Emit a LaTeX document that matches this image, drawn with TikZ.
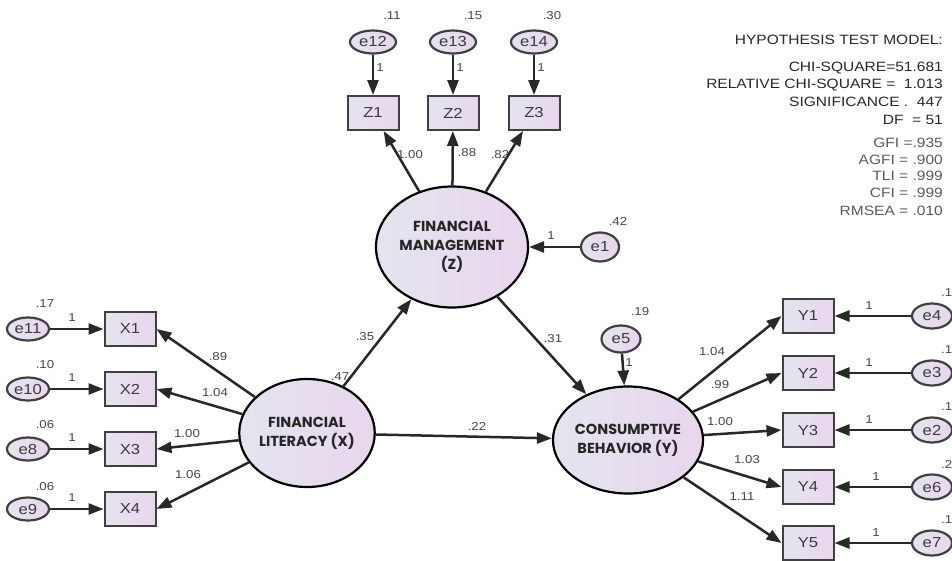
\documentclass[tikz,border=0pt]{standalone}
\usepackage{fontspec}
\setmainfont{Liberation Sans}[FakeStretch=1.15]
\newfontfamily\popp{Poppins}
\usetikzlibrary{arrows.meta,shapes.geometric}
\definecolor{fillL}{RGB}{228,228,238}
\definecolor{fillR}{RGB}{233,214,238}
\definecolor{lineC}{RGB}{40,40,40}
\definecolor{numC}{RGB}{70,70,70}
\definecolor{txtC}{RGB}{60,60,60}
\definecolor{fitA}{RGB}{40,40,40}
\definecolor{fitB}{RGB}{90,90,90}
\tikzset{
  lat/.style={ellipse, draw=black, line width=2.2pt, left color=fillL, right color=fillR,
    inner sep=0pt, align=center, text=black!85,
    font=\popp\bfseries\fontsize{14.5}{19}\selectfont},
  obs/.style={rectangle, draw=black!75, line width=2pt, left color=fillL, right color=fillR,
    minimum width=51pt, minimum height=34pt, inner sep=0pt, text=txtC,
    font=\fontsize{14.5}{15}\selectfont},
  err/.style={ellipse, draw=black!75, line width=2.2pt, left color=fillL, right color=fillR,
    minimum width=42pt, minimum height=23pt, inner sep=0pt, text=txtC,
    font=\fontsize{14.5}{15}\selectfont},
  arr/.style={draw=lineC, line width=2.5pt, -{Triangle[length=15pt,width=11pt]}},
  num/.style={text=numC, font=\fontsize{11.5}{12}\selectfont, inner sep=0pt},
  fit/.style={anchor=east, inner sep=0pt, font=\fontsize{13.5}{15}\selectfont},
}
\begin{document}
\begin{tikzpicture}[x=1pt,y=-1pt]
\useasboundingbox (0,0) rectangle (952,560);
\fill[white] (0,0) rectangle (952,560);

% latent variables
\node[lat, minimum width=152pt, minimum height=121pt] (FM) at (452,247) {FINANCIAL\\MANAGEMENT\\(Z)};
\node[lat, minimum width=134pt, minimum height=108pt] (FL) at (307,433) {FINANCIAL\\LITERACY (X)};
\node[lat, minimum width=144pt, minimum height=107pt] (CB) at (628,440) {CONSUMPTIVE\\BEHAVIOR (Y)};

% Z indicators
\node[obs] (Z1) at (373,113) {Z1};
\node[obs] (Z2) at (453,113) {Z2};
\node[obs] (Z3) at (534,113) {Z3};
\node[err, minimum width=46pt] (e12) at (373,42) {e12};
\node[err, minimum width=46pt] (e13) at (453,42) {e13};
\node[err, minimum width=46pt] (e14) at (534,42) {e14};
\node[err, minimum width=38pt, minimum height=29pt] (e1) at (600,247) {e1};
\node[err, minimum width=39pt, minimum height=27pt] (e5) at (621,339) {e5};

% X indicators
\foreach \n/\e/\y in {X1/e11/329, X2/e10/389, X3/e8/449, X4/e9/509}{
  \node[obs] (\n) at (130,\y) {\n};
  \node[err] (\e) at (28,\y) {\e};
  \draw[arr] (\e) -- (\n);
  \node[num] at (72,\y-11) {1};
}
% Y indicators
\foreach \n/\e/\y in {Y1/e4/316, Y2/e3/373, Y3/e2/430, Y4/e6/487, Y5/e7/543}{
  \node[obs] (\n) at (808,\y) {\n};
  \node[err, minimum width=40pt, minimum height=25pt] (\e) at (932,\y) {\e};
  \draw[arr] (\e) -- (\n);
}
\node[num] at (869,306) {1};
\node[num] at (869,363) {1};
\node[num] at (869,420) {1};
\node[num] at (876,477) {1};
\node[num] at (876,533) {1};

% error arrows
\draw[arr] (e12) -- (Z1);
\draw[arr] (e13) -- (Z2);
\draw[arr] (e14) -- (Z3);
\draw[arr] (e1) -- (FM);
\draw[arr] (e5) -- (CB);
\node[num] at (380,68) {1};
\node[num] at (460,68) {1};
\node[num] at (541,68) {1};
\node[num] at (551,236) {1};
\node[num] at (629,363) {1};

% loadings
\draw[arr] (FM) -- (Z1);
\draw[arr] (FM) -- (Z2);
\draw[arr] (FM) -- (Z3);
\draw[arr] (FL) -- (X1.east);
\draw[arr] (FL) -- (X2.east);
\draw[arr] (FL) -- (X3.east);
\draw[arr] (FL) -- (X4.east);
\draw[arr] (CB) -- (Y1.west);
\draw[arr] (CB) -- (Y2.west);
\draw[arr] (CB) -- (Y3.west);
\draw[arr] (CB) -- (Y4.west);
\draw[arr] (CB) -- (Y5.west);
% structural paths
\draw[arr] (FL) -- (FM);
\draw[arr] (FM) -- (CB);
\draw[arr] (FL) -- (CB);

% coefficient labels
\node[num] at (410,155) {1.00};
\node[num] at (467,153) {.88};
\node[num] at (500,155) {.82};
\node[num] at (218,357) {.89};
\node[num] at (215,393) {1.04};
\node[num] at (187,434) {1.00};
\node[num] at (188,475) {1.06};
\node[num] at (712,352) {1.04};
\node[num] at (720,385) {.99};
\node[num] at (720,422) {1.00};
\node[num] at (747,460) {1.03};
\node[num] at (742,497) {1.11};
\node[num] at (365,337) {.35};
\node[num] at (340,377) {.47};
\node[num] at (477,426) {.22};
\node[num] at (553,339) {.31};

% variances
\node[num] at (392,16) {.11};
\node[num] at (473,16) {.15};
\node[num] at (552,16) {.30};
\node[num] at (618,221) {.42};
\node[num] at (640,312) {.19};
\node[num] at (45,304) {.17};
\node[num] at (45,365) {.10};
\node[num] at (45,425) {.06};
\node[num] at (45,487) {.06};
\node[num, anchor=west] at (941,293) {.1};
\node[num, anchor=west] at (941,350) {.1};
\node[num, anchor=west] at (941,407) {.1};
\node[num, anchor=west] at (941,464) {.2};
\node[num, anchor=west] at (941,520) {.1};

% fit statistics
\node[fit, text=fitA] (h0) at (943,40) {HYPOTHESIS TEST MODEL:};
\node[fit, text=fitA] (h1) at (943,68) {CHI-SQUARE=51.681};
\node[fit, text=fitA] (h2) at (943,85) {RELATIVE CHI-SQUARE =\ \ 1.013};
\node[fit, text=fitA] (h3) at (943,102) {SIGNIFICANCE .\ \ 447};
\node[fit, text=fitA] (h4) at (943,120) {DF\ \ = 51};
\node[fit, text=fitB] (h5) at (943,143) {GFI =.935};
\node[fit, text=fitB] (h6) at (943,160) {AGFI = .900};
\node[fit, text=fitB] (h7) at (943,176) {TLI = .999};
\node[fit, text=fitB] (h8) at (943,193) {CFI = .999};
\node[fit, text=fitB] (h9) at (943,211) {RMSEA = .010};
\end{tikzpicture}
\end{document}
